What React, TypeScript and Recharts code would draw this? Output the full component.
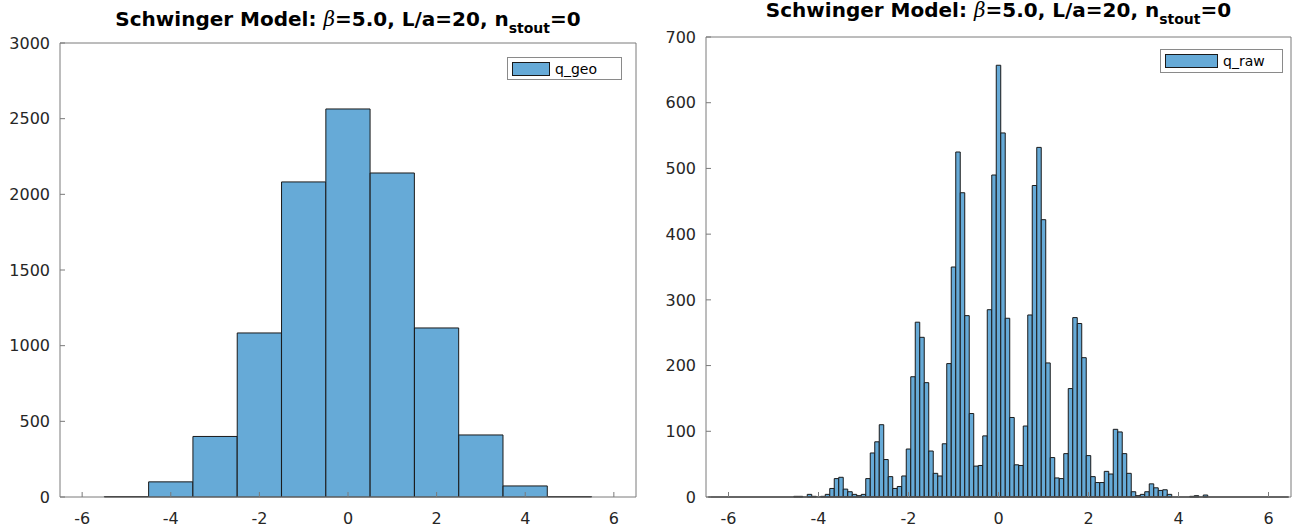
import React from 'react';
import { ComposedChart, Bar, XAxis, YAxis, Legend, ReferenceLine } from 'recharts';

// ---- data ----
const geoBinCenters = [-5, -4, -3, -2, -1, 0, 1, 2, 3, 4, 5];
const geoCounts = [3, 100, 400, 1084, 2082, 2564, 2141, 1117, 410, 73, 3];

// q_raw histogram: bins of width 0.1, centres from -6.4 to 6.4
const rawCounts = [
  // -6.4 .. -4.6
  0, 0, 0, 0, 0, 0, 0, 0, 0, 0, 0, 0, 0, 0, 0, 0, 0, 0, 0,
  // -4.5 .. -3.6
  1, 1, 0, 4, 1, 0, 1, 4, 13, 28,
  // -3.5 .. -2.6
  30, 12, 8, 4, 2, 4, 28, 67, 84, 110,
  // -2.5 .. -1.6
  57, 31, 13, 16, 32, 73, 183, 266, 243, 174,
  // -1.5 .. -0.6
  70, 36, 32, 81, 203, 350, 525, 463, 276, 127,
  // -0.5 .. 0.4
  47, 48, 93, 285, 490, 657, 554, 272, 121, 49,
  // 0.5 .. 1.4
  48, 108, 277, 474, 532, 422, 204, 60, 29, 28,
  // 1.5 .. 2.4
  66, 165, 273, 264, 212, 63, 31, 22, 22, 39,
  // 2.5 .. 3.4
  35, 103, 99, 66, 36, 8, 2, 4, 8, 20,
  // 3.5 .. 4.4
  14, 10, 11, 4, 0, 0, 0, 0, 1, 2,
  // 4.5 .. 6.4
  0, 3, 0, 0, 0, 0, 0, 0, 0, 0, 0, 0, 0, 0, 0, 0, 0, 0, 0, 0,
];
const rawFirstCenter = -6.4;
const rawBinWidth = 0.1;
const geoBinWidth = 1;

const xTicks = [-6, -4, -2, 0, 2, 4, 6];
const geoYTicks = [0, 500, 1000, 1500, 2000, 2500, 3000];
const rawYTicks = [0, 100, 200, 300, 400, 500, 600, 700];

const geoData = geoBinCenters.map((x, i) => ({ x, q_geo: geoCounts[i] }));
const rawData = rawCounts.map((c, i) => ({
  x: Math.round((rawFirstCenter + i * rawBinWidth) * 10) / 10,
  q_raw: c,
}));

// ---- styles ----
const BAR_FILL = '#66aad7';
const BAR_EDGE = '#1a1a1a';
const AXIS_COLOR = '#7a7a7a';
const TEXT_COLOR = '#262626';
const FONT = 'DejaVu Sans, sans-serif';
const X_MIN = -6.5;
const X_MAX = 6.5;

const tickStyle = { fill: TEXT_COLOR, fontSize: 16, fontFamily: FONT };

function Title({ left, top, width }: { left: number; top: number; width: number }) {
  return (
    <div
      style={{
        position: 'absolute',
        left,
        top,
        width,
        textAlign: 'center',
        fontFamily: FONT,
        fontWeight: 'bold',
        fontSize: 20,
        color: '#000',
        whiteSpace: 'nowrap',
        lineHeight: '24px',
      }}
    >
      Schwinger Model:{' '}
      <span style={{ fontFamily: 'DejaVu Serif, serif', fontStyle: 'italic', fontWeight: 'normal' }}>β</span>
      =5.0, L/a=20, n
      <span style={{ fontSize: 14, position: 'relative', top: 7 }}>stout</span>
      =0
    </div>
  );
}

function LegendBox({ label, swatch }: { label: string; swatch: number }) {
  return (
    <div
      style={{
        width: '100%',
        height: '100%',
        boxSizing: 'border-box',
        border: '1px solid #8a8a8a',
        background: '#fff',
        display: 'flex',
        alignItems: 'center',
      }}
    >
      <div
        style={{
          width: swatch,
          height: 14,
          boxSizing: 'border-box',
          background: BAR_FILL,
          border: `1px solid ${BAR_EDGE}`,
          marginLeft: 4,
        }}
      />
      <span style={{ marginLeft: 5, fontSize: 14, fontFamily: FONT, color: '#000' }}>{label}</span>
    </div>
  );
}

type PanelProps = {
  data: any[];
  dataKey: string;
  binWidth: number;
  yTicks: number[];
  yMax: number;
  chartLeft: number;
  chartWidth: number;
  yAxisWidth: number;
  rightWidth: number;
  topHeight: number;
  titleTop: number;
  legend: { left: number; top: number; width: number; height: number; swatch: number };
  baseline?: boolean;
};

function Panel(p: PanelProps) {
  const height = 529;
  const bottomHeight = 32;
  const plotWidth = p.chartWidth - p.yAxisWidth - p.rightWidth;
  // slightly under the bin spacing so Recharts does not shrink bars to 90%
  const barSize = (plotWidth / (X_MAX - X_MIN)) * p.binWidth * 0.998;
  return (
    <div style={{ position: 'absolute', left: p.chartLeft, top: 0, width: p.chartWidth, height }}>
      <ComposedChart
        width={p.chartWidth}
        height={height}
        data={p.data}
        margin={{ top: 0, right: 0, bottom: 0, left: 0 }}
        barCategoryGap={0}
        barGap={0}
      >
        <XAxis
          xAxisId="b"
          dataKey="x"
          type="number"
          domain={[X_MIN, X_MAX]}
          ticks={xTicks}
          interval={0}
          height={bottomHeight}
          tickSize={-5}
          tickMargin={21}
          tick={tickStyle}
          tickLine={{ stroke: AXIS_COLOR }}
          axisLine={{ stroke: AXIS_COLOR }}
          allowDataOverflow
        />
        <XAxis
          xAxisId="t"
          orientation="top"
          dataKey="x"
          type="number"
          domain={[X_MIN, X_MAX]}
          ticks={xTicks}
          interval={0}
          height={p.topHeight}
          tickSize={-5}
          tick={false}
          tickLine={{ stroke: AXIS_COLOR }}
          axisLine={{ stroke: AXIS_COLOR }}
          allowDataOverflow
        />
        <YAxis
          yAxisId="l"
          type="number"
          domain={[0, p.yMax]}
          ticks={p.yTicks}
          interval={0}
          width={p.yAxisWidth}
          tickSize={-5}
          tickMargin={15}
          tick={tickStyle}
          tickLine={{ stroke: AXIS_COLOR }}
          axisLine={{ stroke: AXIS_COLOR }}
        />
        <YAxis
          yAxisId="r"
          orientation="right"
          type="number"
          domain={[0, p.yMax]}
          ticks={p.yTicks}
          interval={0}
          width={p.rightWidth}
          tickSize={-5}
          tick={false}
          tickLine={{ stroke: AXIS_COLOR }}
          axisLine={{ stroke: AXIS_COLOR }}
        />
        <Legend
          layout="horizontal"
          verticalAlign="middle"
          align="center"
          wrapperStyle={{
            left: p.legend.left,
            top: p.legend.top,
            width: p.legend.width,
            height: p.legend.height,
          }}
          content={() => <LegendBox label={p.dataKey} swatch={p.legend.swatch} />}
        />
        <Bar
          xAxisId="b"
          yAxisId="l"
          dataKey={p.dataKey}
          barSize={barSize}
          fill={BAR_FILL}
          stroke={BAR_EDGE}
          strokeWidth={1}
          isAnimationActive={false}
        />
        {p.baseline ? (
          <ReferenceLine
            xAxisId="b"
            yAxisId="l"
            segment={[
              { x: -6.45, y: 0 },
              { x: 6.45, y: 0 },
            ]}
            stroke={BAR_EDGE}
            strokeWidth={1.5}
          />
        ) : null}
      </ComposedChart>
      <Title left={p.yAxisWidth} top={p.titleTop} width={plotWidth} />
    </div>
  );
}

export default function App() {
  return (
    <div style={{ position: 'absolute', left: 0, top: 0, width: 1302, height: 529, background: '#fff' }}>
      <Panel
        data={geoData}
        dataKey="q_geo"
        binWidth={geoBinWidth}
        yTicks={geoYTicks}
        yMax={3000}
        chartLeft={0}
        chartWidth={651}
        yAxisWidth={60}
        rightWidth={15}
        topHeight={43}
        titleTop={7}
        legend={{ left: 507, top: 57, width: 115, height: 23, swatch: 38 }}
      />
      <Panel
        data={rawData}
        dataKey="q_raw"
        binWidth={rawBinWidth}
        yTicks={rawYTicks}
        yMax={700}
        chartLeft={651}
        chartWidth={651}
        yAxisWidth={55}
        rightWidth={11}
        topHeight={37}
        titleTop={-2}
        legend={{ left: 509, top: 49, width: 123, height: 24, swatch: 53 }}
        baseline
      />
    </div>
  );
}
